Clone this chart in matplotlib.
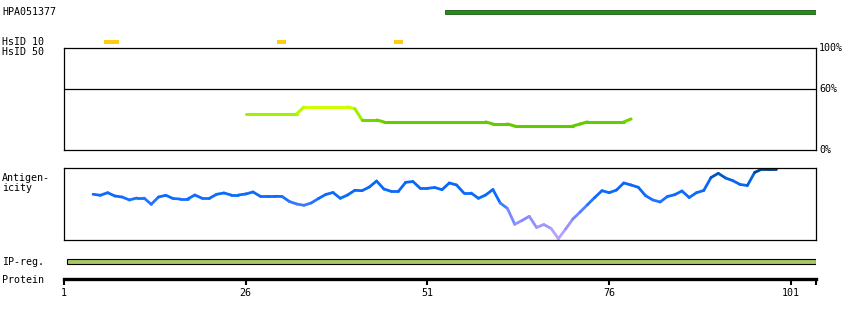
import matplotlib
matplotlib.use("Agg")
import matplotlib.pyplot as plt
import numpy as np
from matplotlib.collections import LineCollection
from matplotlib.colors import LinearSegmentedColormap, Normalize

# protein coordinate range
x_start = 1
x_end = 104.44
tick_positions = [1, 26, 51, 76, 101]

# HPA antigen fragment
hpa_name = "HPA051377"
hpa_range = (53.4, 104.44)

# HsID 10 hits (start, end)
hsid10_hits = [(6.5, 8.6), (30.3, 31.5), (46.4, 47.6)]

# HsID 50 similarity (%) per residue
sim_residues = list(range(26, 80))
sim_values = ([35.3] * 8 + [42.2] * 7 + [40.5] + [29.4] * 3 + [27.5] * 15
              + [25.5] * 3 + [23.5] * 9 + [25.5] + [27.5] * 6 + [30.4])

# antigenicity (0 = bottom of panel, 1 = top) per residue
ant_residues = list(range(5, 100))
ant_values = [0.635, 0.621, 0.657, 0.611, 0.597, 0.556, 0.583, 0.583, 0.496, 0.597,
              0.621, 0.576, 0.569, 0.569, 0.625, 0.579, 0.579, 0.635, 0.653, 0.625,
              0.625, 0.639, 0.667, 0.607, 0.607, 0.607, 0.604, 0.535, 0.500, 0.482,
              0.514, 0.576, 0.632, 0.660, 0.579, 0.625, 0.690, 0.685, 0.736, 0.819,
              0.708, 0.676, 0.676, 0.801, 0.812, 0.718, 0.718, 0.729, 0.699, 0.792,
              0.764, 0.653, 0.653, 0.579, 0.625, 0.701, 0.514, 0.438, 0.218, 0.271,
              0.329, 0.174, 0.215, 0.160, 0.018, 0.153, 0.292, 0.389, 0.490, 0.590,
              0.685, 0.657, 0.694, 0.792, 0.764, 0.732, 0.615, 0.556, 0.528, 0.604,
              0.629, 0.681, 0.590, 0.657, 0.688, 0.868, 0.926, 0.861, 0.824, 0.771,
              0.757, 0.938, 0.985, 0.985, 0.985]

# IP region
ip_range = (1.4, 104.44)

W, H = 850, 320
FONT = "DejaVu Sans Mono"
FS = 7.2


def add_ax(fig, top, bottom):
    left = 64 / W
    width = 752 / W
    ax = fig.add_axes([left, 1 - bottom / H, width, (bottom - top) / H])
    ax.set_xlim(x_start, x_end)
    return ax


def colored_line(ax, xs, ys, cmap, norm, lw):
    pts = np.array([xs, ys]).T.reshape(-1, 1, 2)
    segs = np.concatenate([pts[:-1], pts[1:]], axis=1)
    mids = (np.array(ys[:-1]) + np.array(ys[1:])) / 2
    lc = LineCollection(segs, colors=cmap(norm(mids)), linewidths=lw,
                        capstyle="round", joinstyle="round")
    ax.add_collection(lc)


fig = plt.figure(figsize=(W / 100, H / 100), dpi=100)

# HPA row
ax_hpa = add_ax(fig, 8, 16)
ax_hpa.set_ylim(0, 1)
ax_hpa.axis("off")
ax_hpa.barh(0.5, hpa_range[1] - hpa_range[0], left=hpa_range[0], height=0.6,
            color="#2a8a1e", edgecolor="#1a5a10", linewidth=0.6)
fig.text(2 / W, 1 - 12 / H, hpa_name, family=FONT, fontsize=FS, va="center")

# HsID 10 row
ax_h10 = add_ax(fig, 38, 46)
ax_h10.set_ylim(0, 1)
ax_h10.axis("off")
for s, e in hsid10_hits:
    ax_h10.barh(0.5, e - s, left=s, height=0.6, color="#ffcc11", linewidth=0)
fig.text(2 / W, 1 - 42 / H, "HsID 10", family=FONT, fontsize=FS, va="center")
fig.text(2 / W, 1 - 52 / H, "HsID 50", family=FONT, fontsize=FS, va="center")

# HsID 50 similarity panel
ax_sim = add_ax(fig, 48, 150)
ax_sim.set_ylim(0, 100)
ax_sim.set_xticks([])
ax_sim.set_yticks([])
for sp in ax_sim.spines.values():
    sp.set_linewidth(0.9)
ax_sim.axhline(60, color="black", linewidth=0.9)
sim_cmap = LinearSegmentedColormap.from_list(
    "sim", [(0, "#60c800"), (0.3, "#66cc00"), (0.6, "#a0f000"), (0.88, "#ccff00"), (1, "#ddff00")])
colored_line(ax_sim, sim_residues, sim_values, sim_cmap, Normalize(20, 45), 2.2)
for val, lab in [(100, "100%"), (60, "60%"), (0, "0%")]:
    ax_sim.text(1.004, val, lab, transform=ax_sim.get_yaxis_transform(),
                family=FONT, fontsize=FS, va="center", ha="left")

# Antigenicity panel
ax_ant = add_ax(fig, 168, 240)
ax_ant.set_ylim(0, 1)
ax_ant.set_xticks([])
ax_ant.set_yticks([])
for sp in ax_ant.spines.values():
    sp.set_linewidth(0.9)
ant_cmap = LinearSegmentedColormap.from_list(
    "ant", [(0, "#c4aaff"), (0.25, "#9090ff"), (0.45, "#4c80ff"), (0.6, "#0a6cff"),
            (0.82, "#0a66f0"), (0.92, "#0050b0"), (1, "#003d80")])
colored_line(ax_ant, ant_residues, ant_values, ant_cmap, Normalize(0, 1), 2.0)
fig.text(2 / W, 1 - 183 / H, "Antigen-\nicity", family=FONT, fontsize=FS,
         va="center", linespacing=1.0)

# IP region
ax_ip = add_ax(fig, 257, 266)
ax_ip.set_ylim(0, 1)
ax_ip.axis("off")
ax_ip.barh(0.5, ip_range[1] - ip_range[0], left=ip_range[0], height=0.62,
           color="#a8c860", edgecolor="black", linewidth=0.8)
fig.text(2 / W, 1 - 262 / H, "IP-reg.", family=FONT, fontsize=FS, va="center")

# Protein axis
ax_pr = add_ax(fig, 270, 279)
ax_pr.set_ylim(0, 1)
for k in ["top", "left", "right"]:
    ax_pr.spines[k].set_visible(False)
ax_pr.spines["bottom"].set_linewidth(2.4)
ax_pr.set_yticks([])
ax_pr.set_xticks(tick_positions + [x_end])
ax_pr.set_xticklabels([str(t) for t in tick_positions] + [""], family=FONT, fontsize=FS)
ax_pr.tick_params(axis="x", direction="out", length=4.5, width=1.5, pad=2)
ax_pr.patch.set_visible(False)
fig.text(2 / W, 1 - 280 / H, "Protein", family=FONT, fontsize=FS, va="center")

fig.savefig("out.png", dpi=100)
